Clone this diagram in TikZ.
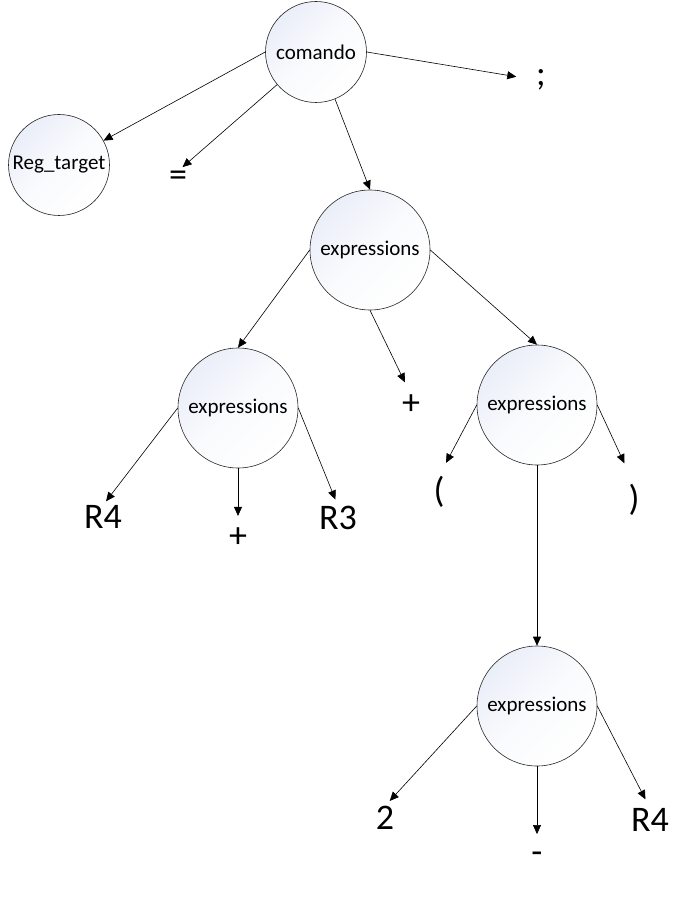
\documentclass[tikz,border=0pt]{standalone}
\usepackage{fontspec}
\setmainfont{Carlito}
\usetikzlibrary{arrows.meta}
\definecolor{nodeblue}{RGB}{234,238,248}

\begin{document}
\begin{tikzpicture}[
    x=1pt, y=-1pt,
    nonterm/.style={circle, draw=black!85, line width=0.6pt, inner sep=0pt,
      minimum size=120pt, top color=nodeblue, bottom color=white,
      middle color=nodeblue!25, shading angle=45,
      font=\fontsize{21}{21}\selectfont},
    term/.style={inner sep=0pt, font=\fontsize{36}{36}\selectfont},
    arr/.style={-{Triangle[length=9pt,width=8pt]}, line width=0.6pt}
  ]
  \useasboundingbox (0,0) rectangle (691,901);
  % top level
  \node [nonterm, minimum size=101pt] at (316,52) (comando) {comando};
  \node [nonterm, minimum size=101pt] at (59,165) (reg) {Reg\_target};
  \node [term] at (178,179) (eq) {=};
  \node [term] at (541,80) (semi) {;};
  \node [nonterm] at (370,250) (expr1) {expressions};
  % second level
  \node [nonterm] at (238,408) (expr2) {expressions};
  \node [term] at (411,405) (plusm) {+};
  \node [nonterm] at (537,405) (expr3) {expressions};
  % leaves of expr2
  \node [term] at (103,517) (r4a) {R4};
  \node [term] at (238,538) (plusl) {+};
  \node [term] at (338,518) (r3) {R3};
  % leaves of expr3
  \node [term] at (439,492) (lpar) {(};
  \node [term] at (634,500) (rpar) {)};
  \node [nonterm] at (537,706) (expr4) {expressions};
  % leaves of expr4
  \node [term] at (385,818) (two) {2};
  \node [term] at (537,858) (minus) {-};
  \node [term] at (650,820) (r4b) {R4};

  % edges
  \draw [arr] (comando.west) -- (reg);
  \draw [arr, shorten >=6pt] (comando.220) -- (eq.north);
  \draw [arr] (comando.292) -- (expr1.north);
  \draw [arr, shorten >=20pt] (comando.east) -- (semi.west);
  \draw [arr] (expr1.west) -- (expr2.north);
  \draw [arr, shorten >=14pt] (expr1.south) -- (plusm.north);
  \draw [arr] (expr1.east) -- (expr3.north);
  \draw [arr, shorten >=5pt] (expr2.west) -- (r4a.north);
  \draw [arr, shorten >=12pt] (expr2.south) -- (plusl.north);
  \draw [arr, shorten >=7pt] (expr2.east) -- (r3.north);
  \draw [arr, shorten >=15pt] (expr3.west) -- (lpar.north);
  \draw [arr, shorten >=23pt] (expr3.east) -- (rpar.north);
  \draw [arr] (expr3.south) -- (expr4.north);
  \draw [arr, shorten >=7pt] (expr4.west) -- (two.north);
  \draw [arr, shorten >=18pt] (expr4.south) -- (minus.north);
  \draw [arr, shorten >=10pt] (expr4.east) -- (r4b.north);
\end{tikzpicture}
\end{document}
